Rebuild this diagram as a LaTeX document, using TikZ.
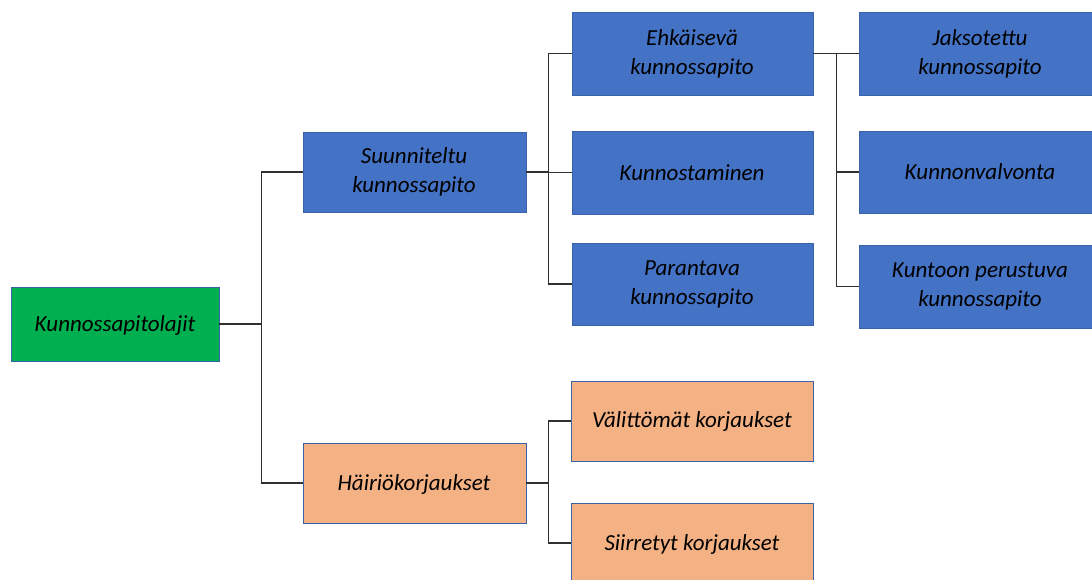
\documentclass[tikz,border=0pt]{standalone}
\usepackage{fontspec}
\setmainfont{Carlito}
\definecolor{boxblue}{HTML}{4472C4}
\definecolor{boxgreen}{HTML}{00B050}
\definecolor{boxorange}{HTML}{F4B183}
\definecolor{boxedge}{HTML}{3A62A8}
\definecolor{wire}{HTML}{303030}
\begin{document}
\begin{tikzpicture}[x=1pt,y=-1pt,
  box/.style={draw=boxedge,line width=0.8pt,align=center,inner sep=0pt,
    font=\fontsize{23}{29}\selectfont\itshape,text=black},
  bluebox/.style={box,fill=boxblue},
  greenbox/.style={box,fill=boxgreen},
  orangebox/.style={box,fill=boxorange},
  wireline/.style={draw=wire,line width=1.3pt}]
\useasboundingbox (0,0) rectangle (1092,579);
\begin{scope}
\clip (0,0) rectangle (1092,579);
% box geometry: (left,top) to (right,bottom)
\newcommand{\boxat}[6]{%
  \node[#1,minimum width={#4-#2},minimum height={#5-#3}] (#6) at ({(#2+#4)/2},{(#3+#5)/2}) {};}
\boxat{greenbox}{11}{287}{219}{361}{root}
\boxat{bluebox}{303}{132}{526}{212}{plan}
\boxat{orangebox}{303}{443}{526}{523}{fault}
\boxat{bluebox}{572}{12}{813}{95}{prev}
\boxat{bluebox}{572}{131}{813}{214}{rest}
\boxat{bluebox}{572}{243}{813}{325}{impr}
\boxat{bluebox}{859}{12}{1094}{95}{peri}
\boxat{bluebox}{859}{131}{1094}{213}{mon}
\boxat{bluebox}{859}{245}{1094}{328}{cond}
\boxat{orangebox}{571}{381}{813}{461}{imm}
\boxat{orangebox}{571}{503}{813}{600}{post}
% labels
\node[box,draw=none] at (115,325) {Kunnossapitolajit};
\node[box,draw=none] at (414,172) {Suunniteltu\\kunnossapito};
\node[box,draw=none] at (414,484) {Häiriökorjaukset};
\node[box,draw=none] at (692,54) {Ehkäisevä\\kunnossapito};
\node[box,draw=none] at (692,284) {Parantava\\kunnossapito};
\node[box,draw=none] at (692,173) {Kunnostaminen};
\node[box,draw=none] at (980,54) {Jaksotettu\\kunnossapito};
\node[box,draw=none] at (980,172) {Kunnonvalvonta};
\node[box,draw=none] at (980,286) {Kuntoon perustuva\\kunnossapito};
\node[box,draw=none] at (692,421) {Välittömät korjaukset};
\node[box,draw=none] at (692,544) {Siirretyt korjaukset};
% connectors
\draw[wireline] (root.east) -- ++(42,0) |- (plan.west);
\draw[wireline] (root.east) -- ++(42,0) |- (fault.west);
\draw[wireline] (plan.east) -- ++(22,0) |- (prev.west);
\draw[wireline] (plan.east) -- ++(22,0) |- (rest.west);
\draw[wireline] (plan.east) -- ++(22,0) |- (impr.west);
\draw[wireline] (prev.east) -- ++(23,0) |- (peri.west);
\draw[wireline] (prev.east) -- ++(23,0) |- (mon.west);
\draw[wireline] (prev.east) -- ++(23,0) |- (cond.west);
\draw[wireline] (fault.east) -- ++(22,0) |- (imm.west);
\draw[wireline] (fault.east) -- ++(22,0) |- ([yshift=8.5pt]post.west);
\end{scope}
\end{tikzpicture}
\end{document}
